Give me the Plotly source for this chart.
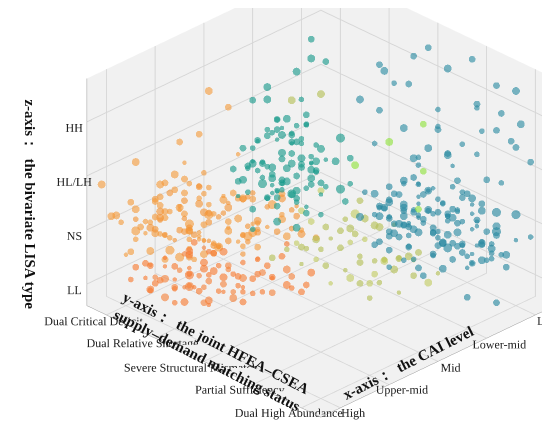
import plotly.graph_objects as go

# category labels
x_labels = ["Low", "Lower-mid", "Mid", "Upper-mid", "High"]
y_labels = ["Dual Critical Deficit", "Dual Relative Shortage", "Severe Structural Mismatch",
            "Partial Sufficiency", "Dual High Abundance"]
z_labels = ["LL", "NS", "HL/LH", "HH"]

# light orange cloud (high CAI, low supply, NS)
orange_x = [3.9, 3.6, 4.2, 3.3, 3.0, 2.7, 3.8, 3.5, 4.0, 2.9, 3.2, 2.5, 3.7, 3.4, 4.1, 2.8, 3.1, 3.6, 2.6, 3.9,
            3.3, 4.3, 2.4, 3.0, 3.5, 3.8, 2.9, 3.2, 3.7, 4.0, 2.7, 3.4, 3.1, 3.6, 2.8, 3.9, 3.3, 2.6, 3.5, 4.2,
            3.0, 3.7, 2.5, 3.2, 3.8, 2.9, 3.4, 4.1, 3.6, 3.1, 2.6, 2.4, 3.3, 3.6, 4.2, 4.3]
orange_y = [0.2, 0.5, -0.1, 0.8, 1.1, 0.4, 0.9, 1.3, 0.6, 0.0, 0.3, 1.2, -0.2, 0.7, 1.0, 1.4, 0.1, 0.4, 0.9, 1.2,
            0.5, 0.3, 0.7, 1.5, -0.1, 0.6, 1.0, 1.3, 0.2, 0.8, 0.0, 1.1, 0.6, 1.4, 0.3, -0.3, 0.9, 1.0, 0.4, 0.7,
            0.2, 1.1, 0.5, 0.8, 0.0, 1.3, 0.1, 0.5, 1.2, 0.9, 0.3, 0.5, 0.4, -0.2, -0.3, 0.4]
orange_z = [1.1, 0.9, 1.3, 1.0, 1.2, 1.4, 0.8, 1.1, 1.5, 0.9, 1.2, 1.0, 1.3, 0.7, 1.1, 1.2, 1.4, 0.9, 1.0, 1.3,
            1.6, 0.8, 1.2, 1.1, 0.9, 1.4, 1.0, 1.2, 1.1, 0.8, 1.3, 1.5, 0.7, 1.0, 1.2, 1.1, 0.9, 1.4, 1.3, 1.0,
            1.6, 0.8, 1.2, 1.1, 0.9, 1.0, 1.4, 1.2, 0.9, 1.3, 3.1, 2.8, 2.5, 2.0, 1.8, 0.9]
orange_s = [6, 5, 7, 4, 6, 5, 8, 5, 6, 4, 7, 5, 6, 5, 8, 4, 6, 5, 7, 5, 6, 4, 6, 8, 5, 6, 4, 7, 5, 6,
            5, 8, 4, 6, 5, 7, 4, 6, 5, 7, 6, 5, 4, 6, 8, 5, 6, 4, 7, 5, 7, 6, 6, 7, 7, 6]

orange2_x = [2.2, 2.4, 2.1, 2.6, 2.3, 3.0, 3.4, 3.8, 4.1, 2.8, 3.2, 3.6, 2.5, 2.9, 3.3, 3.7, 4.0, 2.7, 3.1, 3.5,
             3.9, 2.3, 2.6, 3.0, 3.4, 3.8, 2.8, 3.2, 3.6, 4.2, 2.5, 2.9, 3.3, 3.7, 2.2, 2.4, 3.1, 3.5, 2.7, 4.0]
orange2_y = [1.8, 1.6, 2.0, 1.5, 1.3, 0.6, 0.2, 0.0, 0.3, 1.0, 0.8, 0.9, 1.1, 0.5, 1.2, 0.4, -0.1, 0.7, 1.4, 0.1,
             0.5, 1.5, 1.9, 0.2, 0.6, 1.1, 1.2, 0.0, 0.3, 0.9, 0.8, 1.6, 1.0, 0.7, 1.4, 1.1, 1.7, 1.0, 0.2, 0.6]
orange2_z = [1.0, 1.2, 0.9, 1.1, 1.3, 1.5, 1.7, 1.3, 1.0, 1.6, 0.8, 1.2, 1.4, 1.8, 0.9, 1.5, 1.1, 1.3, 1.0, 1.4,
             1.7, 1.2, 1.1, 1.9, 1.3, 1.5, 0.7, 1.0, 1.8, 1.4, 2.1, 0.9, 1.6, 2.2, 1.5, 0.8, 1.3, 1.1, 2.3, 1.2]
orange2_s = [5, 7, 6, 4, 8, 5, 6, 7, 5, 6, 4, 7, 6, 5, 8, 6, 5, 7, 4, 6,
             6, 5, 7, 4, 6, 8, 5, 6, 7, 5, 4, 6, 5, 7, 6, 5, 8, 4, 6, 7]

orange3_x = [3.0, 3.3, 3.6, 2.8, 3.1, 3.4, 3.7, 2.9, 3.2, 3.5, 3.8, 2.7, 3.0, 3.3, 3.6, 3.9, 2.8, 3.1, 3.4, 3.7,
             2.6, 2.9, 3.2, 3.5, 3.8, 3.0, 3.3, 3.6, 2.7, 3.1, 3.4, 3.9, 2.8, 3.2, 3.5, 2.5, 3.0, 3.4, 3.7, 2.9,
             2.4, 2.6, 2.3, 2.5, 2.7, 2.2, 2.4, 2.6, 2.3, 2.1]
orange3_y = [0.9, 0.6, 0.3, 1.2, 0.8, 0.5, 0.2, 1.4, 1.0, 0.7, 0.4, 1.1, 1.5, 1.2, 0.9, 0.6, 0.3, 0.0, 1.3, 1.0,
             0.7, 0.4, 1.6, 0.2, 0.9, 0.5, 1.4, 0.6, 0.8, 1.1, 0.8, 0.1, 1.5, 0.4, 1.2, 1.0, 0.2, 1.0, 0.5, 0.6,
             1.3, 1.7, 1.5, 1.9, 1.4, 1.7, 2.0, 1.2, 1.8, 1.5]
orange3_z = [1.2, 1.0, 1.3, 0.9, 1.1, 1.4, 1.0, 1.2, 0.8, 1.3, 1.1, 1.5, 1.0, 0.9, 1.2, 1.4, 1.1, 1.3, 1.0, 0.8,
             1.2, 1.5, 0.9, 1.1, 1.3, 1.6, 1.1, 0.9, 1.2, 1.4, 1.0, 1.2, 1.3, 0.8, 1.1, 1.4, 1.2, 1.5, 1.0, 1.1,
             1.3, 1.1, 1.5, 1.2, 1.0, 1.4, 1.1, 1.6, 1.3, 1.2]
orange3_s = [5, 6, 7, 5, 6, 4, 7, 5, 6, 5, 6, 7, 5, 4, 6, 5, 7, 6, 5, 6,
             4, 6, 5, 7, 6, 5, 6, 4, 7, 5, 6, 5, 7, 6, 4, 5, 6, 7, 5, 6,
             5, 6, 7, 5, 6, 4, 7, 5, 6, 5]

# deep orange cloud (high CAI, low supply, LL)
deep_x = [3.8, 3.5, 3.2, 2.9, 4.0, 3.6, 3.3, 3.0, 2.7, 3.9, 3.4, 3.1, 2.8, 4.2, 3.7, 2.6, 3.5, 3.0, 3.8, 3.2,
          2.9, 3.6, 4.1, 3.3, 2.7, 3.0, 3.5, 3.9, 2.8, 3.4, 3.1, 3.7, 2.5, 3.2, 3.6]
deep_y = [0.5, 0.8, 1.2, 1.5, 0.2, 1.0, 0.6, 1.3, 1.7, 0.9, 1.4, 0.4, 1.1, 0.3, 0.7, 1.6, 1.2, 0.9, 0.4, 1.6,
          0.7, 1.3, 0.6, 1.0, 1.3, 1.8, 0.3, 1.1, 0.5, 0.9, 1.5, 0.2, 1.9, 0.8, 0.6]
deep_z = [0.2, 0.1, 0.3, 0.0, 0.4, 0.2, 0.5, 0.1, 0.3, 0.0, 0.2, 0.4, 0.1, 0.3, 0.5, 0.2, 0.0, 0.3, 0.1, 0.2,
          0.4, 0.0, 0.2, 0.3, 0.1, 0.2, 0.4, 0.1, 0.3, 0.0, 0.2, 0.3, 0.1, 0.4, 0.0]
deep_s = [6, 5, 7, 5, 6, 4, 7, 5, 6, 5, 4, 7, 6, 5, 6, 4, 7, 5, 6, 5, 6, 4, 7, 5, 6, 5, 4, 7, 5, 6,
          4, 6, 5, 7, 5]

deep2_x = [2.5, 2.8, 3.1, 3.4, 3.7, 4.0, 2.6, 2.9, 3.2, 3.5, 3.8, 2.4, 2.7, 3.0, 3.3, 3.6, 3.9, 2.2, 2.5, 2.8,
           3.1, 3.4, 2.3, 2.6, 3.7]
deep2_y = [1.4, 1.0, 0.7, 0.4, 0.1, 0.5, 1.9, 1.6, 1.1, 0.8, 0.6, 2.1, 1.4, 1.0, 1.7, 0.9, 0.3, 2.0, 1.7, 1.2,
           0.5, 1.2, 1.6, 2.2, 1.0]
deep2_z = [0.3, 0.1, 0.2, 0.0, 0.3, 0.1, 0.2, 0.4, 0.0, 0.3, 0.5, 0.2, 0.5, 0.6, 0.1, 0.4, 0.2, 0.3, 0.6, 0.4,
           0.6, 0.5, 0.7, 0.2, 0.6]
deep2_s = [6, 5, 7, 4, 6, 5, 7, 6, 5, 8, 4, 6, 5, 7, 6, 5, 4, 7, 6, 5, 6, 7, 5, 6, 4]

deep3_x = [3.2, 3.5, 2.9, 3.8, 3.0, 3.3, 3.6, 2.7, 3.1, 3.4, 3.7, 2.8, 3.9, 3.2, 2.6, 3.5, 3.0, 4.0, 2.9, 3.3,
           3.6, 2.5, 3.1, 3.8, 2.8]
deep3_y = [0.9, 0.6, 1.3, 0.3, 1.0, 0.8, 0.4, 1.5, 1.2, 0.7, 0.9, 1.8, 0.5, 1.4, 2.0, 1.1, 0.6, 0.8, 1.0, 1.5,
           1.2, 1.8, 0.3, 0.8, 1.5]
deep3_z = [0.1, 0.3, 0.2, 0.4, 0.0, 0.2, 0.1, 0.3, 0.4, 0.0, 0.2, 0.1, 0.3, 0.0, 0.4, 0.2, 0.5, 0.1, 0.3, 0.2,
           0.0, 0.4, 0.3, 0.2, 0.6]
deep3_s = [6, 5, 7, 4, 6, 5, 7, 6, 5, 8, 4, 6, 5, 7, 6, 5, 4, 7, 6, 5, 6, 7, 5, 6, 4]

# green-teal cloud (mid CAI, HL/LH)
teal_x = [1.8, 2.1, 1.5, 2.4, 1.9, 1.6, 2.2, 1.3, 2.0, 1.7, 2.5, 1.4, 2.3, 1.8, 2.0, 1.6, 2.2, 1.9, 1.5, 2.4,
          1.7, 2.1, 1.3, 2.0, 1.8, 2.3, 1.6, 1.9, 2.2, 1.4, 2.5, 1.7, 2.0, 1.8, 2.1, 1.5, 2.3, 1.9, 1.6, 2.2,
          1.8, 2.0, 1.4, 2.4, 1.7, 1.2, 1.0, 1.4, 0.9, 1.8, 2.0, 1.6]
teal_y = [1.0, 0.7, 1.3, 0.9, 1.5, 0.8, 1.2, 1.0, 0.5, 1.6, 1.1, 0.6, 1.4, 0.9, 1.2, 1.7, 0.8, 1.1, 1.4, 0.6,
          1.0, 1.3, 0.7, 1.5, 1.2, 1.0, 0.9, 0.6, 1.4, 1.1, 0.8, 1.3, 1.0, 1.6, 0.9, 1.2, 0.7, 1.4, 1.0, 1.1,
          0.8, 1.3, 0.9, 1.2, 1.5, 1.0, 1.1, 0.9, 0.7, 0.7, 0.6, 1.2]
teal_z = [1.8, 2.0, 1.6, 1.4, 1.9, 2.2, 1.7, 2.4, 1.5, 1.8, 2.1, 1.9, 1.6, 2.3, 1.4, 2.0, 1.8, 1.5, 2.1, 1.7,
          2.5, 1.6, 1.9, 1.3, 2.2, 1.8, 1.5, 2.0, 1.7, 2.3, 1.6, 1.9, 1.4, 2.1, 1.8, 2.4, 1.5, 1.7, 2.0, 1.3,
          2.2, 1.6, 1.9, 1.8, 1.5, 3.4, 3.3, 3.2, 3.5, 3.0, 2.8, 2.9]
teal_s = [6, 5, 7, 5, 6, 4, 7, 6, 5, 6, 4, 7, 5, 6, 5, 4, 7, 6, 5, 6, 7, 4, 6, 5, 6, 5, 7, 4, 6, 5,
          6, 7, 4, 5, 6, 5, 7, 6, 4, 6, 5, 7, 6, 5, 6, 7, 6, 7, 6, 7, 6, 5]

teal2_x = [1.5, 1.9, 2.3, 1.7, 2.1, 1.4, 1.8, 2.2, 1.6, 2.0, 2.4, 1.3, 1.7, 2.1, 1.5, 1.9, 2.3, 1.6, 2.0, 1.8,
           2.6, 2.8, 2.5, 2.7, 1.2, 1.1, 1.4, 1.6, 2.2, 1.9]
teal2_y = [1.4, 1.1, 0.8, 1.7, 1.5, 0.9, 1.8, 1.2, 1.3, 0.7, 1.4, 1.6, 0.8, 1.0, 1.9, 1.6, 1.1, 0.5, 1.7, 1.3,
           1.2, 1.4, 1.6, 1.0, 1.8, 1.5, 2.0, 2.1, 1.7, 1.9]
teal2_z = [1.6, 2.0, 1.8, 1.4, 1.5, 2.2, 1.7, 1.9, 1.3, 2.1, 1.6, 1.8, 2.4, 1.2, 1.5, 1.1, 2.0, 2.6, 1.3, 1.2,
           1.3, 1.1, 1.2, 1.5, 1.9, 2.1, 1.6, 1.4, 1.0, 1.2]
teal2_s = [5, 7, 6, 4, 8, 5, 6, 7, 5, 6, 4, 7, 6, 5, 8, 6, 5, 7, 4, 6, 6, 5, 7, 4, 6, 8, 5, 6, 7, 5]

teal3_x = [1.7, 2.0, 1.5, 2.2, 1.8, 1.4, 2.1, 1.6, 1.9, 2.3, 1.7, 2.0, 1.5, 1.8, 2.2, 1.6, 1.9, 1.3, 2.1, 1.7,
           2.4, 1.8, 1.5, 2.0, 1.6]
teal3_y = [1.1, 0.9, 1.4, 1.3, 0.7, 1.0, 1.6, 1.2, 0.8, 1.1, 1.5, 1.4, 0.9, 1.2, 0.6, 1.7, 1.0, 1.3, 1.2, 0.8,
           1.5, 1.6, 1.1, 1.0, 1.4]
teal3_z = [1.9, 1.7, 1.8, 1.5, 2.1, 2.0, 1.6, 1.7, 2.3, 1.6, 1.9, 1.4, 2.1, 1.8, 2.0, 1.5, 2.2, 1.9, 1.3, 2.4,
           1.4, 1.7, 2.0, 1.6, 1.8]
teal3_s = [6, 5, 7, 4, 6, 5, 7, 6, 5, 8, 4, 6, 5, 7, 6, 5, 4, 7, 6, 5, 6, 7, 5, 6, 4]

# blue-teal cloud (low CAI, high supply)
blue_x = [0.8, 0.5, 1.1, 0.3, 0.9, 0.6, 1.2, 0.2, 0.7, 1.0, 0.4, 0.8, 0.1, 1.3, 0.5, 0.9, 0.6, 0.3, 1.1, 0.7,
          0.0, 0.4, 1.0, 0.8, 0.2, 0.6, 1.2, 0.5, 0.9, 0.3, 0.7, 1.0, 0.1, 0.6, 0.8, 0.4, 1.1, 0.2, 0.7, 0.5,
          0.9, 0.3, -0.1, 0.6, 1.0, 0.4, 0.8, 0.2, 0.5, 0.7, 1.0, 0.6, 0.9]
blue_y = [2.6, 2.9, 2.3, 3.2, 2.8, 2.4, 2.7, 3.5, 3.0, 2.2, 2.6, 3.3, 3.8, 2.5, 3.1, 2.9, 2.2, 2.7, 3.0, 3.4,
          3.1, 2.4, 2.6, 2.0, 4.0, 3.6, 2.9, 2.5, 3.2, 3.0, 2.1, 3.5, 3.3, 2.8, 3.7, 3.9, 2.4, 2.9, 2.7, 3.4,
          2.3, 3.6, 3.2, 3.0, 2.8, 2.6, 3.1, 3.7, 2.2, 2.9, 3.0, 4.2, 3.9]
blue_z = [0.8, 0.6, 1.0, 0.5, 1.2, 0.7, 0.9, 0.6, 0.4, 1.1, 1.3, 0.8, 0.5, 0.7, 1.0, 1.4, 0.6, 0.9, 0.5, 0.8,
          1.2, 1.1, 0.7, 0.9, 0.4, 0.6, 1.3, 0.8, 1.0, 1.5, 0.7, 0.5, 0.9, 1.1, 0.8, 0.6, 1.2, 1.0, 1.6, 0.7,
          0.9, 0.4, 1.1, 0.8, 0.6, 1.3, 1.0, 0.7, 0.8, 1.2, 0.3, 0.0, 0.1]
blue_s = [6, 5, 7, 5, 6, 4, 7, 6, 5, 6, 4, 7, 5, 6, 5, 4, 7, 6, 5, 6, 7, 4, 6, 5, 6, 5, 7, 4, 6, 5,
          6, 7, 4, 5, 6, 5, 7, 6, 4, 6, 5, 7, 6, 5, 6, 7, 6, 5, 6, 7, 6, 6, 6]

blue2_x = [0.4, 0.7, 1.0, 0.2, 0.5, 0.8, 1.1, 0.3, 0.6, 0.9, 0.1, 0.4, 0.7, 1.2, 0.0, 0.3, 0.6, 0.9, 0.2, 0.5,
           0.8, 1.1, 0.4, 0.7, 0.1, -0.1, 0.3, 0.6, 0.9, 0.2, 0.5, 1.3, 1.4, 1.2, 0.8, 0.0, 0.4, 0.6, 1.0, 0.3]
blue2_y = [3.0, 2.7, 2.4, 3.4, 3.1, 2.8, 2.5, 3.8, 3.5, 3.2, 4.1, 3.7, 3.4, 2.1, 3.6, 3.3, 3.9, 2.6, 2.9, 2.4,
           3.6, 2.8, 4.2, 3.8, 2.7, 3.9, 2.3, 2.0, 3.4, 3.1, 3.5, 2.4, 2.8, 2.0, 2.2, 4.3, 4.0, 3.7, 3.1, 2.5]
blue2_z = [1.0, 0.7, 1.3, 0.9, 0.5, 1.1, 0.8, 0.7, 1.2, 0.6, 0.9, 1.4, 0.5, 1.4, 0.8, 1.5, 1.0, 1.7, 1.8, 1.5,
           1.3, 0.4, 0.8, 0.6, 1.9, 1.2, 1.6, 1.2, 0.9, 1.4, 0.3, 0.6, 0.4, 0.9, 0.2, 1.0, 1.5, 1.6, 0.2, 2.0]
blue2_s = [5, 7, 6, 4, 8, 5, 6, 7, 5, 6, 4, 7, 6, 5, 8, 6, 5, 7, 4, 6,
           6, 5, 7, 4, 6, 8, 5, 6, 7, 5, 4, 6, 5, 7, 6, 5, 8, 4, 6, 7]

blue3_x = [0.5, 0.8, 0.3, 1.0, 0.6, 0.2, 0.9, 0.4, 0.7, 1.1, 0.1, 0.5, 0.8, 0.3, 0.6, 1.0, 0.4, 0.7, 0.2, 0.9,
           0.5, 0.8, 0.3, 0.6, 1.2, 0.4, 0.7, 0.1, 0.9, 0.5, 0.2, 0.6, 0.8, 0.3, 1.0, 0.5, 0.7, 0.0, 0.4, 0.9,
           0.6, 0.3, 0.8, 1.1, 0.2, 0.5, 0.7, 0.4, 1.0, 0.6]
blue3_y = [2.8, 2.5, 3.1, 2.3, 2.7, 3.3, 2.6, 3.0, 2.4, 2.9, 3.5, 3.2, 2.9, 2.6, 3.4, 2.1, 3.7, 2.2, 3.0, 2.5,
           3.6, 3.1, 2.8, 2.3, 2.6, 3.9, 3.3, 3.2, 2.0, 2.4, 3.8, 3.0, 2.7, 3.5, 2.8, 2.2, 3.8, 3.6, 2.9, 3.3,
           2.6, 2.4, 3.4, 2.9, 3.1, 3.7, 2.1, 3.2, 2.5, 4.0]
blue3_z = [1.0, 0.8, 0.7, 1.1, 0.9, 0.8, 1.2, 1.0, 0.7, 0.9, 0.8, 1.1, 1.0, 1.3, 0.7, 0.9, 0.8, 1.2, 1.0, 1.4,
           0.6, 0.9, 1.1, 1.0, 0.8, 0.7, 1.3, 1.0, 1.2, 0.9, 0.9, 1.4, 0.8, 1.1, 1.0, 1.3, 0.6, 0.9, 1.2, 0.8,
           1.5, 1.1, 1.0, 0.7, 1.3, 0.8, 1.0, 1.2, 0.9, 0.7]
blue3_s = [5, 6, 7, 5, 6, 4, 7, 5, 6, 5, 6, 7, 5, 4, 6, 5, 7, 6, 5, 6,
           4, 6, 5, 7, 6, 5, 6, 4, 7, 5, 6, 5, 7, 6, 4, 5, 6, 7, 5, 6,
           5, 6, 7, 5, 6, 4, 7, 5, 6, 5]

# scattered blue points in the upper part (HH)
hi_x = [0.1, -0.1, 0.0, -0.2, 0.2, 0.1, 0.4, 0.6, 0.3, -0.1, 0.0, 0.2, 0.5, -0.2, 0.3, 0.7, 0.0, 0.4, -0.1,
        0.6, 0.2, 0.8, 0.1, 0.5, 0.9, 0.3, 0.7, -0.2, 1.0, 0.4, 0.6, 0.0, 1.1, 0.2]
hi_y = [2.0, 2.5, 3.6, 3.8, 3.9, 3.3, 2.2, 1.9, 2.7, 3.1, 4.1, 3.5, 2.9, 2.9, 1.8, 2.4, 3.9, 3.6, 4.2,
        3.2, 2.6, 2.0, 3.0, 3.9, 2.8, 4.0, 3.5, 3.4, 1.8, 1.6, 2.6, 2.2, 2.2, 4.2]
hi_z = [3.4, 3.3, 3.5, 3.4, 3.2, 3.0, 3.1, 3.3, 2.8, 2.9, 3.0, 2.7, 2.6, 3.6, 2.9, 2.5, 2.6, 2.4, 2.3,
        2.3, 2.4, 2.7, 2.2, 2.1, 2.2, 2.0, 2.0, 2.5, 2.9, 3.2, 2.0, 3.6, 2.3, 2.7]
hi_s = [6, 7, 6, 7, 6, 5, 6, 7, 5, 6, 7, 5, 6, 6, 5, 7, 6, 5, 6, 7, 5, 6, 5, 6, 7, 5, 6, 6, 7, 6,
        5, 6, 5, 6]

# olive / yellow-green points (mid CAI, high supply, low z)
olive_x = [1.6, 1.3, 1.9, 1.1, 1.5, 2.0, 1.2, 1.7, 1.4, 0.9, 1.8, 1.0, 1.6, 2.1, 1.3, 1.5, 1.1, 1.9, 1.4, 1.7,
           1.2, 0.8, 1.6, 2.2, 1.0, 1.8, 1.3, 1.5, 1.1, 1.7, 2.0, 1.4, 0.9, 1.6, 1.2, 2.4, 2.3, 1.4, 1.6]
olive_y = [2.0, 2.4, 1.8, 2.7, 2.2, 1.6, 3.0, 2.5, 1.9, 2.9, 2.3, 2.1, 2.8, 1.7, 2.6, 3.1, 2.3, 2.0, 2.7, 2.1,
           1.8, 3.2, 2.4, 1.9, 2.6, 2.8, 2.2, 1.7, 3.0, 2.5, 2.1, 2.9, 2.4, 1.6, 2.0, 1.4, 1.6, 1.4, 1.0]
olive_z = [0.5, 0.3, 0.7, 0.4, 0.8, 0.2, 0.6, 0.1, 0.9, 0.5, 0.3, 0.7, 0.2, 0.6, 0.4, 0.1, 0.8, 0.3, 0.5, 0.9,
           0.6, 0.2, 0.4, 0.7, 0.3, 0.0, 1.0, 0.5, 0.2, 0.6, 1.1, 0.4, 0.8, 0.3, 1.2, 0.4, 0.6, 3.0, 2.8]
olive_s = [6, 5, 7, 5, 6, 4, 7, 6, 5, 6, 4, 7, 5, 6, 5, 4, 7, 6, 5, 6, 7, 4, 6, 5, 6, 5, 7, 4, 6, 5,
           6, 7, 4, 5, 6, 6, 5, 7, 7]

olive2_x = [1.8, 1.5, 1.2, 2.0, 1.7, 1.4, 1.1, 1.9, 2.1, 1.3, 1.0, 1.6, 2.3, 1.8, 1.5]
olive2_y = [1.6, 2.1, 2.5, 2.2, 2.8, 2.3, 3.3, 1.5, 2.0, 2.0, 2.9, 2.6, 1.8, 2.4, 1.5]
olive2_z = [0.9, 0.6, 0.3, 0.1, 0.4, 0.7, 0.2, 1.1, 0.5, 1.0, 0.4, 0.1, 0.8, 0.2, 1.3]
olive2_s = [6, 5, 7, 4, 6, 5, 7, 6, 5, 8, 4, 6, 5, 7, 6]

# bright lime points
lime_x = [0.3, 0.8, 1.3, 0.5, 0.9]
lime_y = [2.4, 2.2, 2.0, 2.6, 2.9]
lime_z = [2.4, 2.2, 1.9, 1.7, 1.3]
lime_s = [6, 7, 7, 6, 6]

groups = [
    (orange_x, orange_y, orange_z, orange_s, "#f59b3c"),
    (orange2_x, orange2_y, orange2_z, orange2_s, "#f59b3c"),
    (orange3_x, orange3_y, orange3_z, orange3_s, "#f39436"),
    (deep_x, deep_y, deep_z, deep_s, "#f7792f"),
    (deep2_x, deep2_y, deep2_z, deep2_s, "#f7792f"),
    (deep3_x, deep3_y, deep3_z, deep3_s, "#f5823a"),
    (olive_x, olive_y, olive_z, olive_s, "#b4bf55"),
    (olive2_x, olive2_y, olive2_z, olive2_s, "#c3cc62"),
    (teal_x, teal_y, teal_z, teal_s, "#15998a"),
    (teal2_x, teal2_y, teal2_z, teal2_s, "#15998a"),
    (teal3_x, teal3_y, teal3_z, teal3_s, "#1a9c8c"),
    (blue_x, blue_y, blue_z, blue_s, "#24869e"),
    (blue2_x, blue2_y, blue2_z, blue2_s, "#24869e"),
    (blue3_x, blue3_y, blue3_z, blue3_s, "#2a8aa2"),
    (hi_x, hi_y, hi_z, hi_s, "#2b8ba2"),
    (lime_x, lime_y, lime_z, lime_s, "#8fe23a"),
]

fig = go.Figure()
for gx, gy, gz, gs, col in groups:
    fig.add_trace(
        go.Scatter3d(
            x=gx, y=gy, z=gz,
            mode="markers",
            marker=dict(size=[s * 1.3 for s in gs], color=col, opacity=0.62, line=dict(width=0)),
            showlegend=False,
            hoverinfo="skip",
        )
    )

axis_style = dict(
    title=dict(text=""),
    showbackground=True,
    backgroundcolor="#f1f1f1",
    gridcolor="#d6d6d6",
    showline=True,
    linecolor="#9a9a9a",
    zeroline=False,
    showspikes=False,
    ticks="",
    tickangle=0,
    tickfont=dict(family="Liberation Serif", size=12, color="#222"),
)

title_font = dict(size=15, family="Liberation Serif", color="#111")

fig.update_layout(
    width=550,
    height=427,
    margin=dict(l=0, r=0, t=0, b=0),
    paper_bgcolor="white",
    font=dict(family="Liberation Serif", color="#222"),
    scene=dict(
        domain=dict(x=[0.0, 1.0], y=[0.0, 1.0]),
        xaxis=dict(axis_style, tickvals=[0, 1, 2, 3, 4], ticktext=x_labels, range=[-0.4, 4.4]),
        yaxis=dict(axis_style, tickvals=[0, 1, 2, 3, 4], ticktext=y_labels, range=[-0.4, 4.4]),
        zaxis=dict(axis_style, tickvals=[0, 1, 2, 3], ticktext=z_labels, range=[-0.4, 3.8]),
        aspectmode="manual",
        aspectratio=dict(x=1.55, y=1.55, z=1.21),
        camera=dict(eye=dict(x=1.672, y=1.421, z=1.029), center=dict(x=0.172, y=-0.079, z=-0.121),
                    projection=dict(type="orthographic")),
    ),
    annotations=[
        dict(text="<b>z-axis：  the bivariate LISA type</b>", x=0.04, y=0.54, xref="paper", yref="paper",
             xanchor="center", yanchor="middle", textangle=90, showarrow=False, font=title_font),
        dict(text="<b>y-axis：  the joint HFEA–CSEA<br>supply–demand matching status</b>", x=0.37, y=0.195,
             xref="paper", yref="paper", xanchor="center", yanchor="middle", textangle=27, align="left",
             showarrow=False, font=title_font),
        dict(text="<b>x-axis：  the CAI level</b>", x=0.727, y=0.169, xref="paper", yref="paper",
             xanchor="center", yanchor="middle", textangle=-27, showarrow=False, font=title_font),
    ],
)

fig.write_html("out.html")
